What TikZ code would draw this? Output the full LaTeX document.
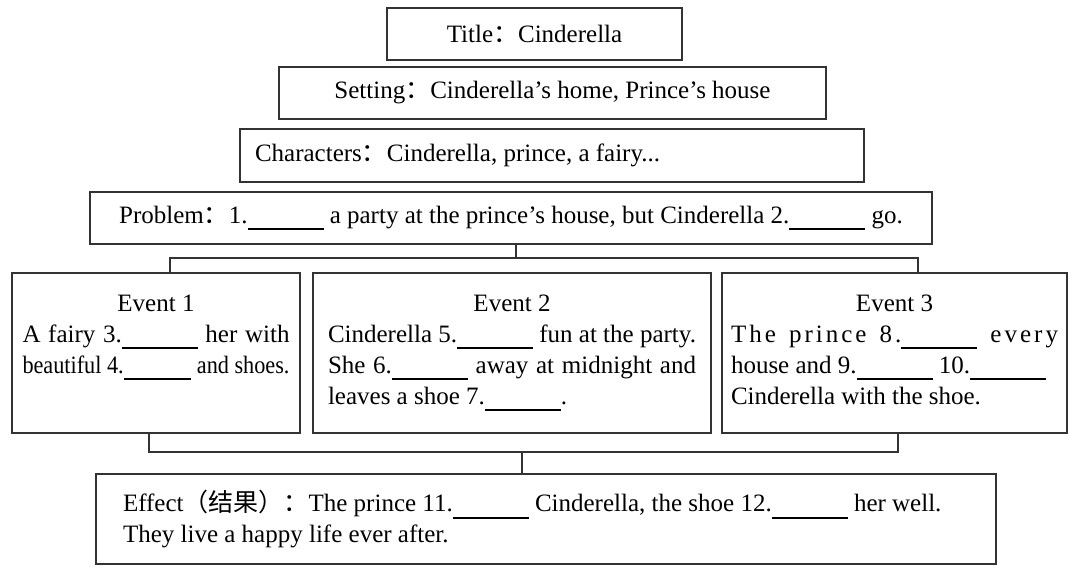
\documentclass[tikz,border=0pt]{standalone}
\usepackage{fontspec}
\setmainfont{Liberation Serif}
\newfontfamily\cjk{Noto Sans CJK SC}
\usepackage{graphicx}

\newcommand{\blank}{\rule[-3.5pt]{38pt}{0.9pt}}
\newcommand{\fcolon}{{\cjk ：}}
\newcommand{\jline}[2]{\makebox[#1][s]{#2}}

\tikzset{
  box/.style={draw=black!80, line width=1pt, inner sep=0pt, minimum height=26pt,
    font=\fontsize{12.5}{15.5}\selectfont},
  conn/.style={draw=black!80, line width=1pt}
}

\begin{document}
\begin{tikzpicture}[x=0.5pt,y=-0.5pt]
\useasboundingbox (0,0) rectangle (1074,567);

% story frame
\node[box, minimum width=147.5pt] (title) at (534.5,34) {Title\fcolon Cinderella};
\node[box, minimum width=273.5pt] (setting) at (552.5,93) {Setting\fcolon Cinderella's home, Prince's house};
\node[box, minimum width=312pt, minimum height=26.5pt, text width=297pt, align=flush left, inner xsep=7.5pt] (chars) at (552,155.5) {Characters\fcolon Cinderella, prince, a fairy...};
\node[box, minimum width=421pt] (problem) at (511,218) {Problem\fcolon 1.\blank{} a party at the prince's house, but Cinderella 2.\blank{} go.};

% events
\node[box, minimum width=144pt, minimum height=80pt] (ev1) at (156,353) {\parbox[c][80pt][t]{133.5pt}{\centering\rule{0pt}{19pt}Event 1\\
  \jline{133.5pt}{A fairy 3.\blank{} her with}\\
  \resizebox{133.5pt}{\height}{beautiful 4.\blank{} and shoes.}}};
\node[box, minimum width=199pt, minimum height=80pt] (ev2) at (512,353) {\parbox[c][80pt][t]{184pt}{\centering\rule{0pt}{19pt}Event 2\\
  \jline{184pt}{Cinderella 5.\blank{} fun at the party.}\\
  \jline{184pt}{She 6.\blank{} away at midnight and}\\
  \makebox[184pt][l]{leaves a shoe 7.\blank{}.}}};
\node[box, minimum width=172.5pt, minimum height=80pt] (ev3) at (894.5,353) {\parbox[c][80pt][t]{163.5pt}{\centering\rule{0pt}{19pt}Event 3\\
  \jline{163.5pt}{\addfontfeature{LetterSpace=12}The prince 8.\blank{} every}\\
  \makebox[163.5pt][l]{house and 9.\blank{} 10.\blank}\\
  \makebox[163.5pt][l]{Cinderella with the shoe.}}};

% effect
\node[box, minimum width=450pt, minimum height=45pt, text width=423pt, align=flush left, inner xsep=13.5pt] (effect) at (546,519) {Effect{\cjk （结果）：}The prince 11.\blank{} Cinderella, the shoe 12.\blank{} her well.\\
  They live a happy life ever after.};

% brackets
\coordinate (ptop) at (516,258);
\coordinate (tl) at (170,258);
\coordinate (tr) at (918,258);
\draw[conn] (problem.south -| ptop) -- (ptop);
\draw[conn] (ev1.north -| tl) -- (tl) -- (tr) -- (ev3.north -| tr);

\coordinate (bl) at (149,452);
\coordinate (br) at (898,452);
\coordinate (bm) at (522,452);
\draw[conn] (ev1.south -| bl) -- (bl) -- (br) -- (ev3.south -| br);
\draw[conn] (bm) -- (effect.north -| bm);
\end{tikzpicture}
\end{document}
